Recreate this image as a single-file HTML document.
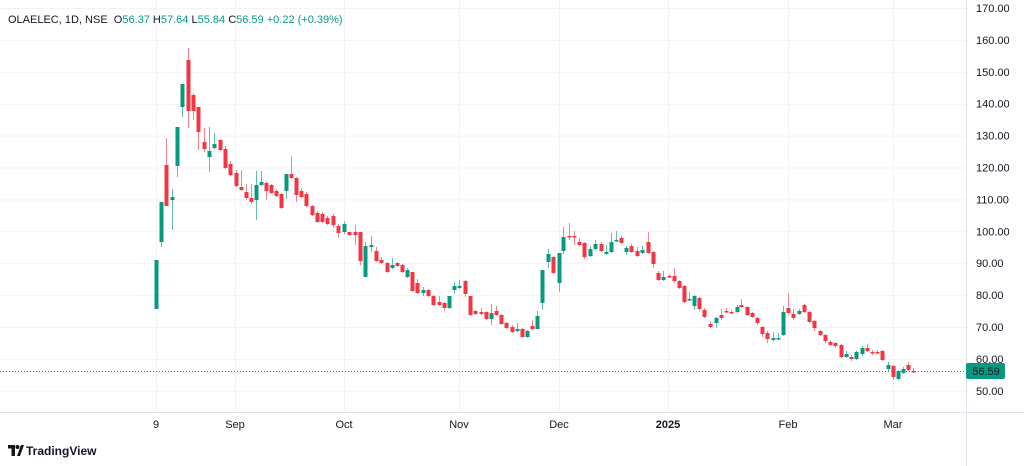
<!DOCTYPE html>
<html><head><meta charset="utf-8"><style>
body{margin:0;background:#fff;font-family:"Liberation Sans",sans-serif;}
#w{position:relative;width:1024px;height:466px;overflow:hidden;}
.t{position:absolute;font-size:11px;color:#131722;white-space:nowrap;}
</style></head><body><div id="w">
<svg id="s" width="1024" height="466" style="position:absolute;left:0;top:0"></svg>
<div class="t" style="left:8px;top:14px;font-size:11px">OLAELEC, 1D, NSE&nbsp; <span style="color:#131722">O</span><span style="color:#089981">56.37</span> <span>H</span><span style="color:#089981">57.64</span> <span>L</span><span style="color:#089981">55.84</span> <span>C</span><span style="color:#089981">56.59</span> <span style="color:#089981">+0.22 (+0.39%)</span></div>
<div class="t" style="left:26px;top:444px;font-size:12px;font-weight:bold;color:#131722">TradingView</div>
<svg style="position:absolute;left:8px;top:445px" width="16" height="12"><path d="M0 0h7v11h-3.5v-7.5h-3.5z M9 11l4-11h3l-4 11z" fill="#131722"/><circle cx="9.5" cy="2" r="2" fill="#131722"/></svg>
</div>
<script>
var s=document.getElementById('s'),h='';
function L(x1,y1,x2,y2,c,extra){h+='<line x1="'+x1+'" y1="'+y1+'" x2="'+x2+'" y2="'+y2+'" stroke="'+c+'" stroke-width="1" '+(extra||'')+'/>';}
function T(x,y,t,a,extra){h+='<text x="'+x+'" y="'+y+'" font-family="Liberation Sans,sans-serif" font-size="11" fill="#131722" text-anchor="'+(a||'start')+'" '+(extra||'')+'>'+t+'</text>';}
var xs=[156,235,344,459,559,668,788,893];
for(var i=0;i<13;i++){var y=8+i*31.9;L(0,y+.5,966,y+.5,'#f3f3f5');T(976,y+4,(170-i*10).toFixed(2));}
xs.forEach(function(x){L(x+.5,0,x+.5,412,'#f3f3f5');});
L(966.5,0,966.5,466,'#e0e3eb');L(0,412.5,1024,412.5,'#e0e3eb');
var lb=['9','Sep','Oct','Nov','Dec','2025','Feb','Mar'];
xs.forEach(function(x,i){T(x,428,lb[i],'middle',i==5?'font-weight="bold"':'');});
var d=[[156,309,260,309,260],[161,242,202,247,202],[166,165,206,138,206],[172,200,197,189,230],[177,166,127,177,127],[182,107,84,117,84],[188,60,111,48,128],[193,95,111,93,120],[198,107,132,107,150],[204,142,149,128,152],[209,157,151,127,172],[214,148,144,133,149],
[220,140,150,139,151],[225,149,168,146,169],[230,164,175,161,176],[236,173,186,170,187],[241,187,190,170,191],[246,192,198,184,200],[251,198,202,184,204],[256,200,185,171,220],[261,185,182,171,186],[266,183,191,181,200],[271,185,193,184,194],[276,191,196,189,197],[281,194,208,193,209],[286,191,174,174,199],[291,174,178,156,179],[296,178,195,177,202],[301,191,197,188,198],[306,194,206,192,207],[312,206,215,205,216],[317,213,222,211,223],[322,214,222,212,223],[327,218,224,216,225],
[333,216,225,214,228],[338,226,233,224,238],[344,232,224,221,234],[349,232,235,232,236],[355,232,235,225,245],[360,232,261,232,265],[365,277,246,242,277],[371,247,245,236,252],[376,251,261,247,262],[381,260,263,257,264],[387,263,272,262,273],[392,268,265,258,269],[397,263,266,262,267],[402,265,272,264,273],[407,277,270,268,278],[412,272,291,272,292],[417,283,293,279,294],[423,293,290,287,296],[428,290,296,289,297],[433,296,305,295,306],[439,302,305,296,306],[444,303,308,302,311],[449,308,296,296,309],[454,290,286,282,294],[459,288,286,280,289],[465,281,294,280,297],[470,296,315,296,316],[475,311,314,310,315],[481,312,314,308,315],[486,312,319,311,320],[491,319,313,304,325],[496,311,315,306,316],[501,315,324,314,325],[506,323,328,322,329],[512,327,332,325,333],[517,331,329,323,332],[522,329,337,328,338],[527,337,331,330,338],[532,326,329,320,330],[537,329,316,311,329],[542,303,270,270,310],[548,262,254,249,268],[553,257,273,256,274],[559,283,253,253,292],[563,251,237,227,254],
[569,236,237,223,240],[574,236,237,231,245],[579,242,245,238,246],[584,243,257,242,259],[590,256,249,246,257],[595,249,244,240,250],[601,244,251,242,252],[606,254,252,245,255],[611,252,242,233,253],[616,241,240,231,242],[621,238,243,236,244],[626,252,248,246,255],[631,246,252,244,253],[637,251,256,247,257],[642,253,250,246,254],[648,242,253,232,254],[653,252,264,251,268],[658,273,280,271,281],[663,280,277,271,281],[669,276,277,274,278],[674,276,281,268,283],[679,281,288,280,289],[684,286,302,285,303],[689,300,299,292,301],[694,306,296,295,310],[699,298,309,297,311],[704,310,317,308,318],[710,324,327,321,328],[716,323,318,317,328],[721,315,318,309,320],[726,311,312,308,313],[731,312,313,310,314],[737,312,307,305,313],[741,305,307,299,308],[747,307,315,306,316],[752,313,317,312,318],[757,318,323,317,325],[762,327,334,326,337],[767,333,339,331,343],[773,340,338,332,341],[778,339,338,333,340],[783,335,312,306,336],[788,308,313,293,315],[793,314,318,309,320],[799,314,311,309,315],[804,305,312,304,313],[809,312,322,311,323],[814,321,328,320,331],[820,331,335,330,336],[825,335,341,334,343],[830,342,345,340,346],[835,343,346,342,348],[841,345,357,344,358],[846,357,354,351,358],[851,357,359,355,361],[856,359,352,351,360],[862,354,348,346,356],[867,348,351,344,352],[872,352,353,350,355],[877,352,353,350,354],[882,351,360,350,361],[888,369,365,362,371],[893,366,377,365,380],[898,379,371,370,380],[903,373,369,367,374],[908,365,370,362,371],[913,371,372,368,373]];
d.forEach(function(c){var x=c[0],o=c[1],cl=c[2],col=cl>o?'#f23645':'#089981';
var wc=cl>o?'#f7828d':'#5fbfa9';
L(x+.5,c[3],x+.5,c[4],wc);
var t=Math.min(o,cl),b=Math.max(o,cl);if(b-t<1.5)b=t+1.5;
h+='<rect x="'+(x-1.5)+'" y="'+t+'" width="4" height="'+(b-t)+'" fill="'+col+'"/>';});
L(0,371.5,966,371.5,'#089981','stroke-dasharray="1 2"');
h+='<rect x="966" y="363" width="39" height="16" rx="2" fill="#089981"/>';
T(986,375,'56.59','middle','fill="#fff" font-size="11"');
s.innerHTML=h;
</script></body></html>
